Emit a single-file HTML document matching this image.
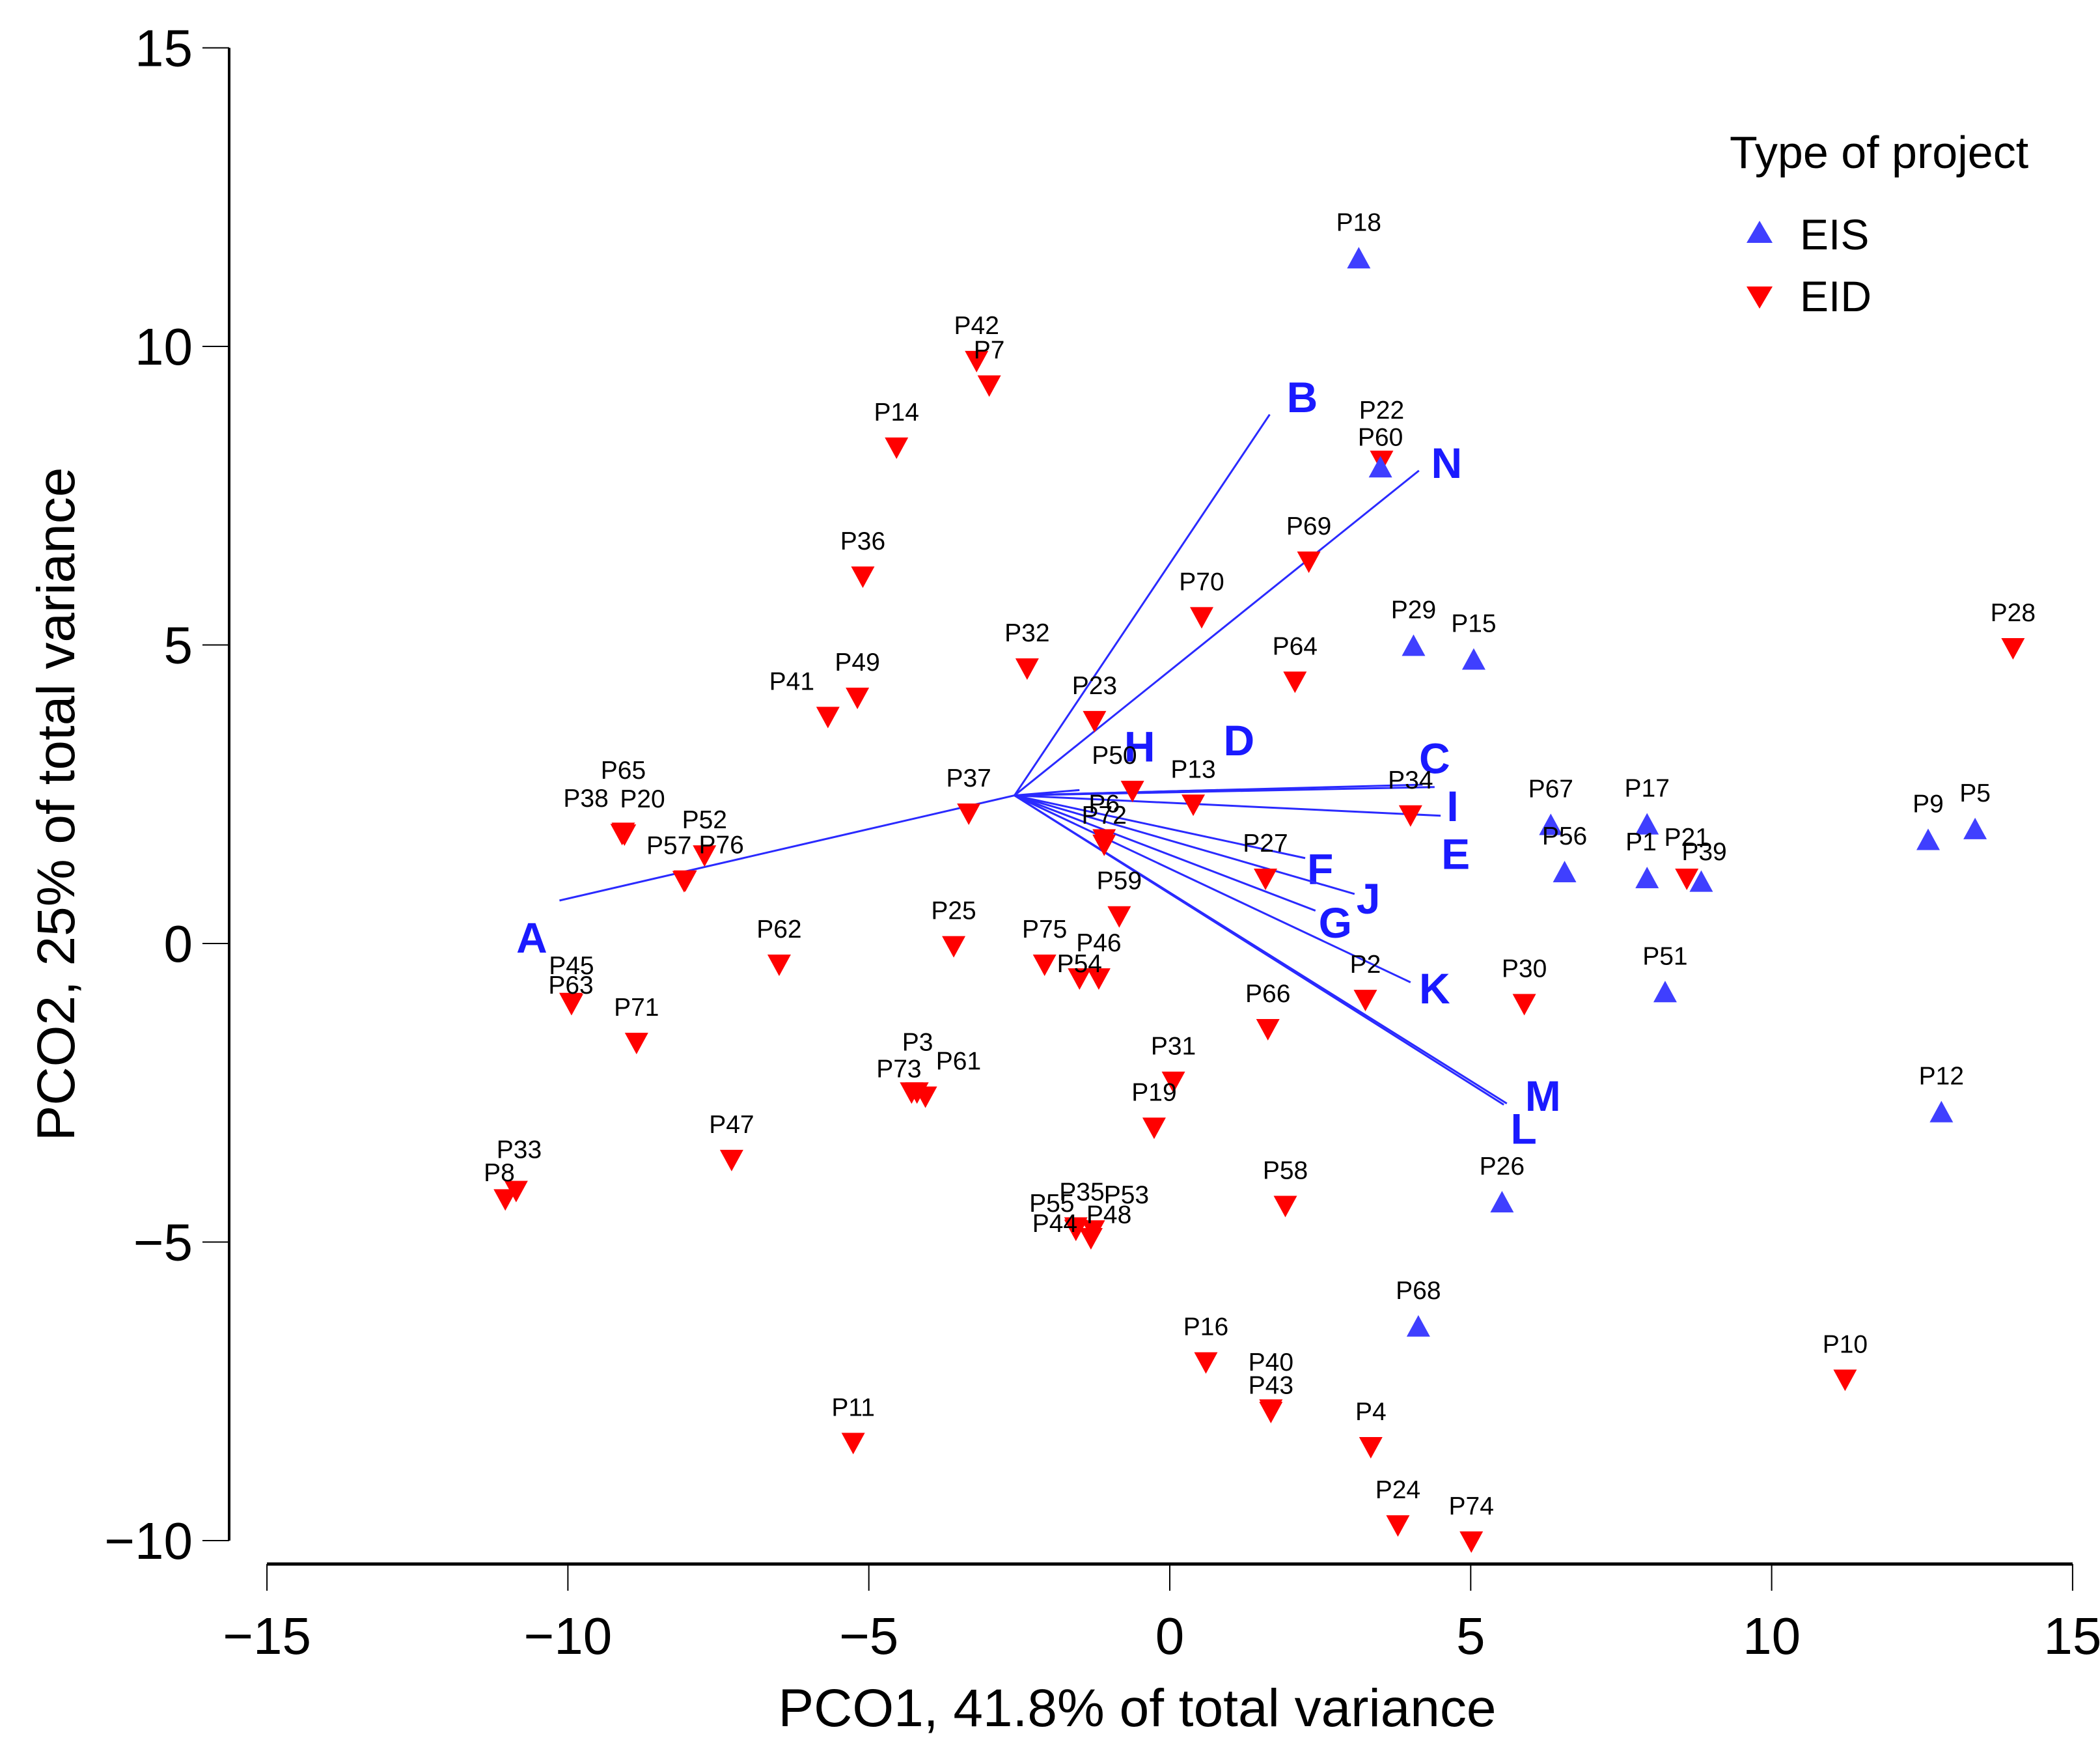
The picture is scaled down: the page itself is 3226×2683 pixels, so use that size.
<!DOCTYPE html>
<html><head><meta charset="utf-8"><style>
html,body{margin:0;padding:0;background:#fff}
svg{display:block}
text{font-family:"Liberation Sans",Arial,sans-serif}
</style></head><body>
<svg id="chart" xmlns="http://www.w3.org/2000/svg" width="3226" height="2683" viewBox="0 0 3226 2683">
<rect width="3226" height="2683" fill="#fff"/>
<g id="axes"></g>
<g id="vectors"></g>
<g id="points"></g>
<text x="1747" y="2651" font-size="82" text-anchor="middle">PCO1, 41.8% of total variance</text>
<text x="0" y="0" font-size="82" text-anchor="middle" transform="translate(114,1235) rotate(-90)">PCO2, 25% of total variance</text>
<g>
<text x="2657" y="258" font-size="70">Type of project</text>
<polygon points="2703,339 2683,373 2723,373" fill="#3f3fff"/>
<text x="2765" y="383" font-size="66">EIS</text>
<polygon points="2703,474 2683,440 2723,440" fill="#ff0000"/>
<text x="2765" y="478" font-size="66">EID</text>
</g>
</svg>
<script>
const xTicks=[-15,-10,-5,0,5,10,15];
const yTicks=[15,10,5,0,-5,-10];
const xTickLabels=["\u221215","\u221210","\u22125","0","5","10","15"];
const yTickLabels=["15","10","5","0","\u22125","\u221210"];
const eisNames=["P18","P60","P29","P15","P67","P17","P56","P1","P39","P9","P5","P51","P12","P26","P68"];
const eisX=[3.14,3.5,4.05,5.05,6.33,7.93,6.56,7.93,8.83,12.6,13.38,8.23,12.82,5.52,4.13];
const eisY=[11.48,7.98,4.99,4.76,1.99,2.0,1.2,1.1,1.04,1.74,1.92,-0.81,-2.82,-4.33,-6.41];
const eisLabelDX=[0,0,0,0,0,0,0,-0.1,0.05,0,0,0,0,0,0];
const eisLabelDY=[0,-0.1,0,0,0,0,0,0,-0.1,0,0,0,0,0,0];
const eidNames=["P42","P7","P14","P22","P36","P69","P70","P32","P64","P28","P41","P49","P23","P50","P13","P34","P37","P65","P38","P20","P52","P57","P76","P6","P72","P27","P21","P59","P25","P62","P75","P46","P54","P2","P30","P45","P63","P71","P66","P31","P3","P73","P61","P19","P47","P33","P8","P58","P35","P55","P53","P48","P44","P16","P40","P43","P11","P4","P10","P24","P74"];
const eidX=[-3.21,-3.0,-4.54,3.52,-5.1,2.31,0.53,-2.37,2.08,14.01,-5.68,-5.19,-1.25,-0.62,0.39,4.0,-3.34,-9.08,-9.1,-9.06,-7.73,-8.07,-8.05,-1.09,-1.09,1.59,8.59,-0.84,-3.59,-6.49,-2.08,-1.18,-1.5,3.25,5.89,-9.94,-9.95,-8.86,1.63,0.06,-4.29,-4.2,-4.06,-0.26,-7.28,-10.86,-11.04,1.92,-1.56,-1.56,-1.27,-1.31,-1.31,0.6,1.68,1.68,-5.26,3.34,11.22,3.79,5.01];
const eidY=[9.75,9.34,8.3,8.08,6.14,6.39,5.46,4.6,4.38,4.94,3.79,4.11,3.72,2.55,2.32,2.14,2.17,1.85,1.83,1.82,1.47,1.04,1.05,1.74,1.65,1.08,1.08,0.45,-0.05,-0.36,-0.36,-0.59,-0.59,-0.95,-1.02,-1.02,-1.0,-1.67,-1.44,-2.32,-2.5,-2.5,-2.57,-3.09,-3.63,-4.15,-4.29,-4.4,-4.76,-4.8,-4.81,-4.94,-4.94,-7.02,-7.81,-7.85,-8.37,-8.44,-7.31,-9.75,-10.02];
const eidLabelDX=[0,0,0,0,0,0,0,0,0,0,-0.6,0,0,-0.3,0,0,0,0,-0.6,0.3,0,-0.25,0.6,0,0,0,0,0,0,0,0,0,0,0,0,0,0,0,0,0,0.1,-0.3,0.55,0,0,0.05,-0.1,0,0.1,-0.4,0.55,0.3,-0.6,0,0,0,0,0,0,0,0];
const eidLabelDY=[0,0,0,0.25,0,0,0,0,0,0,0,0,0,0,0,0,0,0.45,0,0,0,0,0,0,-0.1,0,0.1,0,0,0,0,0,-0.35,0,0,0.05,-0.3,0,0,0,0.25,-0.2,0,0,0,0.1,-0.15,0,0,-0.15,0,-0.2,-0.35,0,0.2,-0.15,0,0,0,0,0];
const vecNames=["A","B","N","C","I","E","H","D","F","J","G","K","M","L"];
const vecOrigin=[-2.58,2.48];
const vecX=[-10.14,1.66,4.14,4.2,4.4,4.5,-1.5,0.8,2.25,3.07,2.42,4.0,5.6,5.55];
const vecY=[0.72,8.86,7.92,2.66,2.62,2.14,2.57,2.57,1.43,0.83,0.55,-0.65,-2.68,-2.7];
const vecLabelX=[-10.6,2.2,4.6,4.4,4.7,4.75,-0.5,1.15,2.5,3.3,2.75,4.4,6.2,5.88];
const vecLabelY=[0.1,9.15,8.05,3.1,2.3,1.5,3.3,3.4,1.25,0.75,0.35,-0.75,-2.55,-3.1];

const NS="http://www.w3.org/2000/svg";
const sx=v=>1797+v*92.46;
const sy=v=>1449-v*91.7;
function mk(tag,attrs,parent,txt){const e=document.createElementNS(NS,tag);for(const k in attrs)e.setAttribute(k,attrs[k]);if(txt!==undefined)e.textContent=txt;parent.appendChild(e);return e;}
const axes=document.getElementById('axes');
let e;
e=mk('line',{x1:352,y1:sy(15),x2:352,y2:sy(-10),stroke:'#000','stroke-width':4},axes);


e=mk('line',{x1:sx(-15),y1:2402,x2:sx(15),y2:2402,stroke:'#000','stroke-width':5},axes);


xTicks.forEach((t,i)=>{
  let l=mk('line',{x1:sx(t),y1:2402,x2:sx(t),y2:2443,stroke:'#000','stroke-width':2},axes);
  
  
  let tx=mk('text',{x:sx(t),y:2540,'font-size':80,'text-anchor':'middle'},axes,xTickLabels[i]);
  
  
});
yTicks.forEach((t,i)=>{
  let l=mk('line',{x1:311,y1:sy(t),x2:352,y2:sy(t),stroke:'#000','stroke-width':2},axes);
  
  
  let tx=mk('text',{x:296,y:sy(t)+28,'font-size':80,'text-anchor':'end'},axes,yTickLabels[i]);
  
  
});
const vg=document.getElementById('vectors');
vecNames.forEach((n,i)=>{
  let l=mk('line',{x1:sx(vecOrigin[0]),y1:sy(vecOrigin[1]),x2:sx(vecX[i]),y2:sy(vecY[i]),stroke:'#2a2aff','stroke-width':3},vg);
  
  
  let t=mk('text',{x:sx(vecLabelX[i]),y:sy(vecLabelY[i])+23,'font-size':66,'font-weight':'bold',fill:'#1a1aff','text-anchor':'middle'},vg,n);
  
  
});
const pg=document.getElementById('points');
eidNames.forEach((n,i)=>{
  const x=sx(eidX[i]),y=sy(eidY[i]);
  let p=mk('polygon',{points:`${x-18},${y-16} ${x+18},${y-16} ${x},${y+17}`,fill:'#ff0000'},pg);
  
  
  let t=mk('text',{x:sx(eidX[i]+eidLabelDX[i]),y:sy(eidY[i]+eidLabelDY[i])-42,'font-size':39,'text-anchor':'middle'},pg,n);
  
  
});
eisNames.forEach((n,i)=>{
  const x=sx(eisX[i]),y=sy(eisY[i]);
  let p=mk('polygon',{points:`${x},${y-17} ${x-18},${y+16} ${x+18},${y+16}`,fill:'#3f3fff'},pg);
  
  
  let t=mk('text',{x:sx(eisX[i]+eisLabelDX[i]),y:sy(eisY[i]+eisLabelDY[i])-42,'font-size':39,'text-anchor':'middle'},pg,n);
  
  
});
</script>
</body></html>
